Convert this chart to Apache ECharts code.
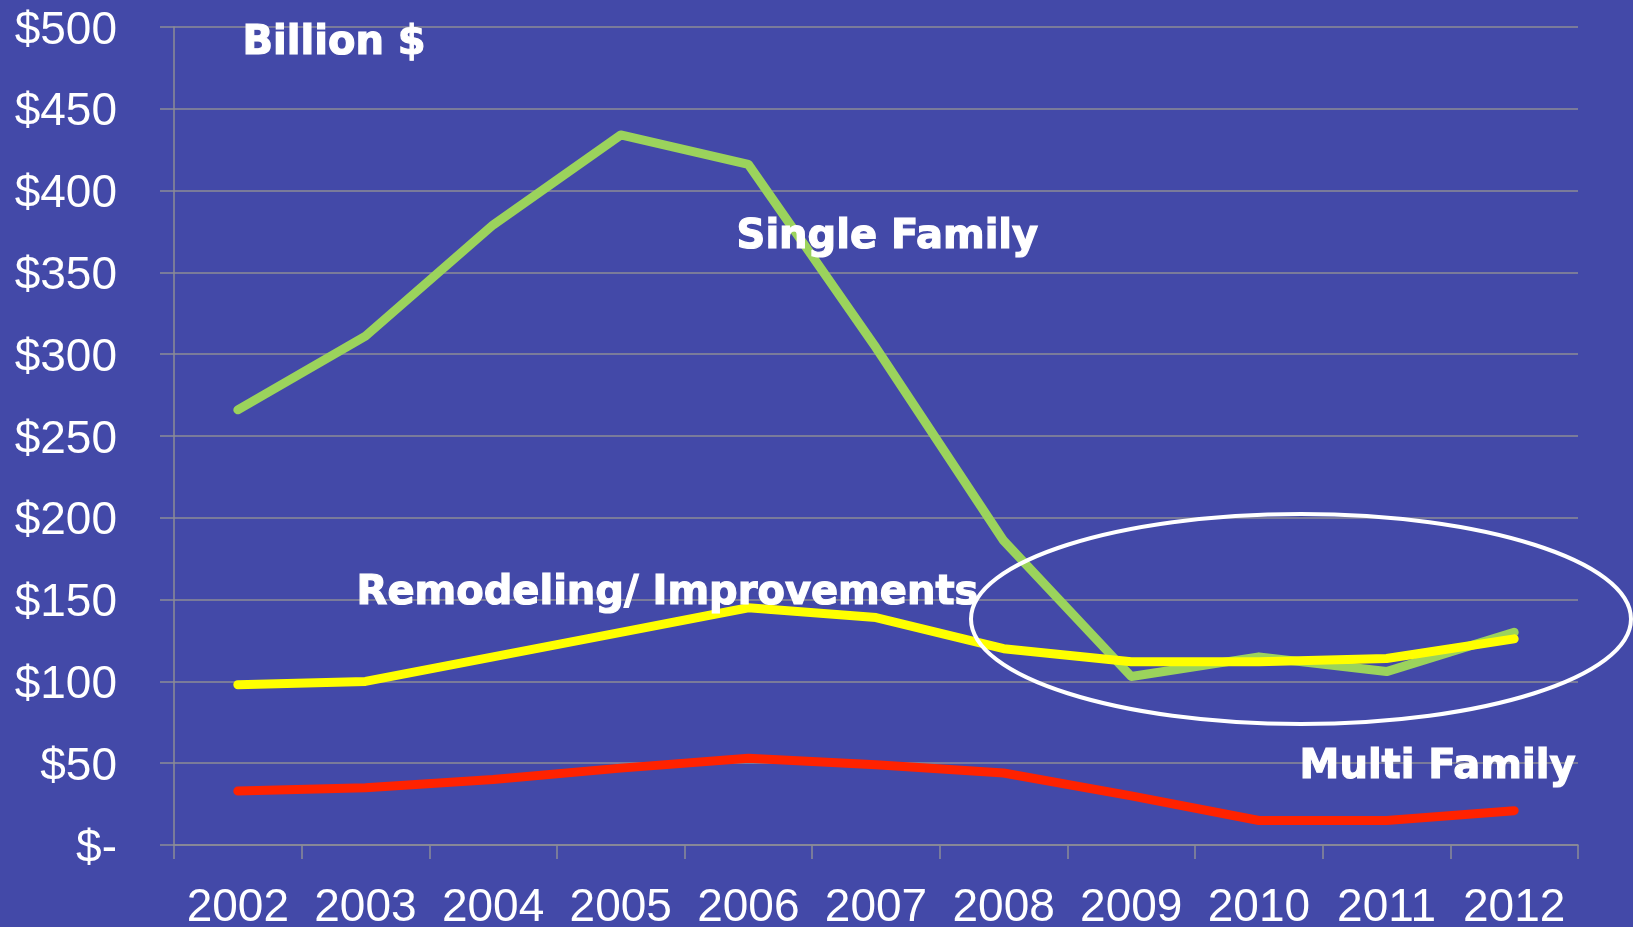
<!DOCTYPE html>
<html>
<head>
<meta charset="utf-8">
<script src="https://cdn.jsdelivr.net/npm/echarts@6/dist/echarts.min.js"></script>
<style>
  html, body { margin: 0; padding: 0; background: #4349a8; }
  #chart { width: 1633px; height: 927px; }
</style>
</head>
<body>
<div id="chart"></div>
<script>
// values in billion $
var years = ['2002', '2003', '2004', '2005', '2006', '2007', '2008', '2009', '2010', '2011', '2012'];
var singleFamily = [266, 311, 379, 434, 416, 304, 186, 103, 115, 106, 130];
var remodeling = [98, 100, 115, 130, 145, 139, 120, 112, 112, 114, 126];
var multiFamily = [33, 35, 40, 47, 53, 49, 44, 30, 15, 15, 21];

var gridColor = '#8c8c96';
var labelFont = '"Liberation Sans", Arial, sans-serif';
var noteFont = '"DejaVu Sans", sans-serif';

var chart = echarts.init(document.getElementById('chart'));

function lineSeries(name, data, color) {
  return {
    name: name,
    type: 'line',
    data: data,
    showSymbol: false,
    symbol: 'none',
    lineStyle: { color: color, width: 9, cap: 'round', join: 'round' },
    itemStyle: { color: color }
  };
}

function note(text, x, y) {
  return {
    type: 'text',
    left: x,
    top: y,
    z: 100,
    style: {
      text: text,
      fill: '#ffffff',
      stroke: '#ffffff',
      lineWidth: 1.2,
      font: 'bold 40px ' + noteFont
    }
  };
}

var option = {
  backgroundColor: '#4349a8',
  animation: false,
  grid: { left: 174, right: 55, top: 27, bottom: 82, containLabel: false, outerBoundsMode: 'none' },
  xAxis: {
    type: 'category',
    data: years,
    boundaryGap: true,
    axisLine: { lineStyle: { color: gridColor, width: 1.5 } },
    axisTick: { show: true, length: 14, lineStyle: { color: gridColor, width: 1.5 } },
    axisLabel: { color: '#ffffff', fontSize: 46, fontFamily: labelFont, margin: 40, interval: 0 }
  },
  yAxis: {
    type: 'value',
    min: 0,
    max: 500,
    interval: 50,
    axisLine: { show: true, lineStyle: { color: gridColor, width: 1.5 } },
    axisTick: { show: true, length: 14, lineStyle: { color: gridColor, width: 1.5 } },
    splitLine: { show: true, lineStyle: { color: gridColor, width: 1.5 } },
    axisLabel: {
      color: '#ffffff',
      fontSize: 46,
      fontFamily: labelFont,
      margin: 57,
      formatter: function (v) { return '{v|' + (v === 0 ? '$-' : '$' + v) + '}'; },
      rich: {
        v: { color: '#ffffff', fontSize: 46, fontFamily: labelFont, padding: [8, 0, 0, 0] }
      }
    }
  },
  series: [
    lineSeries('Single Family', singleFamily, '#9bd35c'),
    lineSeries('Remodeling/ Improvements', remodeling, '#ffff00'),
    lineSeries('Multi Family', multiFamily, '#ff2200')
  ],
  graphic: [
    note('Billion $', 242, 23),
    note('Single Family', 736, 217),
    note('Remodeling/ Improvements', 356, 573),
    note('Multi Family', 1299, 747),
    {
      type: 'ellipse',
      z: 100,
      shape: { cx: 1301, cy: 619, rx: 330, ry: 105 },
      style: { fill: null, stroke: '#ffffff', lineWidth: 4 }
    }
  ]
};

chart.setOption(option);
</script>
</body>
</html>
